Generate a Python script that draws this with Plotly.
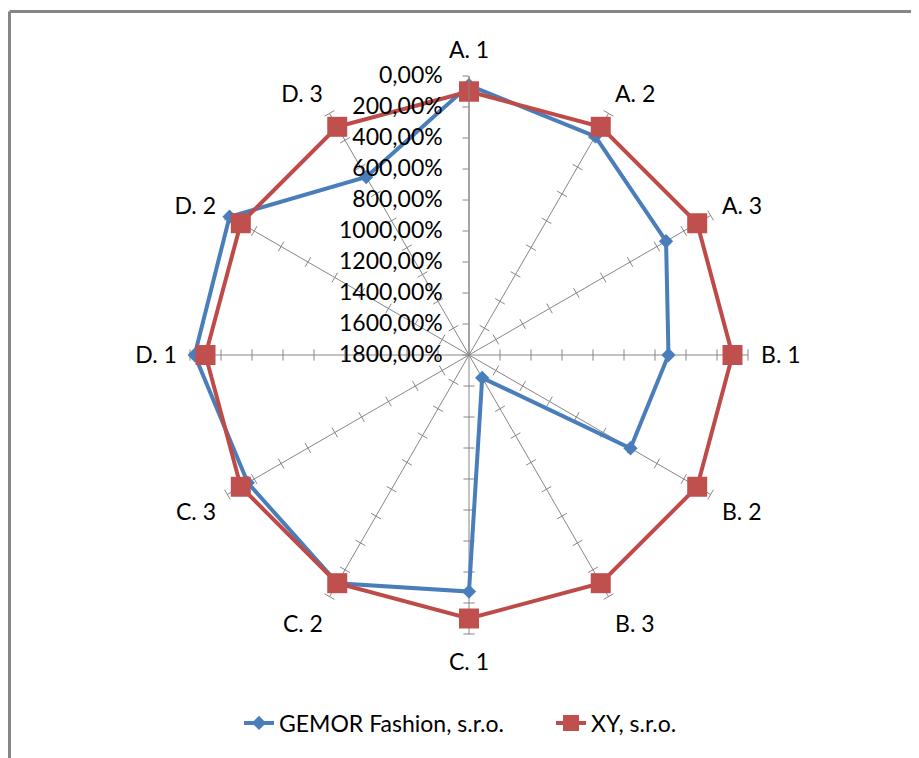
import plotly.graph_objects as go

categories = ["A. 1", "A. 2", "A. 3", "B. 1", "B. 2", "B. 3",
              "C. 1", "C. 2", "C. 3", "D. 1", "D. 2", "D. 3"]
gemor_values = [60, 171, 332, 513, 597, 1630, 274, 100, 152, 30, 16, 474]
xy_values = [100, 100, 100, 100, 100, 100, 100, 100, 100, 100, 100, 100]
tick_values = [0, 200, 400, 600, 800, 1000, 1200, 1400, 1600, 1800]
tick_labels = ["0,00%", "200,00%", "400,00%", "600,00%", "800,00%", "1000,00%",
               "1200,00%", "1400,00%", "1600,00%", "1800,00%"]

OFF = 8  # page body margin
W, H = 919 - OFF, 758 - OFF
cx, cy, R = 469 - OFF, 355 - OFF, 279
FONT = "Lato"
GRAY = "#868686"
BLUE = "#4A7EBB"
RED = "#BE4B48"

fig = go.Figure()

# small tick marks on the spokes (Excel style), except the main radial axis spoke
tr, tt, ta = [], [], []
for i, c in enumerate(categories[1:], start=1):
    for v in tick_values[:-1]:
        tr.append(v)
        tt.append(c)
        ta.append(i * 30)
fig.add_trace(go.Scatterpolar(
    r=tr, theta=tt, mode="markers", showlegend=False, hoverinfo="skip",
    marker=dict(symbol="line-ew", size=8, angle=ta,
                line=dict(color=GRAY, width=1), color=GRAY),
))

fig.add_trace(go.Scatterpolar(
    r=gemor_values + gemor_values[:1], theta=categories + categories[:1],
    mode="lines+markers", name="GEMOR Fashion, s.r.o.",
    line=dict(color=BLUE, width=4),
    marker=dict(symbol="diamond", size=11, color=BLUE),
))
fig.add_trace(go.Scatterpolar(
    r=xy_values + xy_values[:1], theta=categories + categories[:1],
    mode="lines+markers", name="XY, s.r.o.",
    line=dict(color=RED, width=4),
    marker=dict(symbol="square", size=20, color="#C0504D"),
))

fig.update_layout(
    width=W, height=H,
    margin=dict(l=0, r=0, t=0, b=0),
    paper_bgcolor="white", plot_bgcolor="white",
    font=dict(family=FONT, size=23, color="black"),
    polar=dict(
        domain=dict(x=[(cx - R) / W, (cx + R) / W], y=[1 - (cy + R) / H, 1 - (cy - R) / H]),
        bgcolor="white",
        radialaxis=dict(
            range=[1800, 0], angle=90, side="counterclockwise",
            tickvals=tick_values, ticktext=[t + "\u00a0\u00a0" for t in tick_labels],
            tickangle=90,
            showgrid=False, showline=True, linecolor=GRAY, linewidth=1,
            ticks="outside", ticklen=6, tickcolor=GRAY,
            tickfont=dict(family=FONT, size=23, color="black"),
        ),
        angularaxis=dict(
            type="category", categoryarray=categories,
            direction="clockwise", rotation=90,
            showgrid=True, gridcolor=GRAY, gridwidth=1,
            showline=False, ticks="outside", ticklen=8, tickcolor="rgba(0,0,0,0)",
            tickfont=dict(family=FONT, size=23, color="black"),
        ),
    ),
    legend=dict(orientation="h", x=(244 - OFF - 5) / W, xanchor="left",
                y=1 - (723 - OFF) / H, yanchor="middle",
                entrywidth=267, entrywidthmode="pixels",
                font=dict(family=FONT, size=23, color="black"), bgcolor="rgba(0,0,0,0)"),
    shapes=[
        dict(type="line", xref="paper", yref="paper", x0=(9.5 - OFF) / W, x1=1.05,
             y0=1 - (11.5 - OFF) / H, y1=1 - (11.5 - OFF) / H, line=dict(color=GRAY, width=3)),
        dict(type="line", xref="paper", yref="paper", x0=(9.5 - OFF) / W, x1=(9.5 - OFF) / W,
             y0=-0.05, y1=1 - (11.5 - OFF) / H, line=dict(color=GRAY, width=3)),
    ],
)

fig.write_html("out.html")
